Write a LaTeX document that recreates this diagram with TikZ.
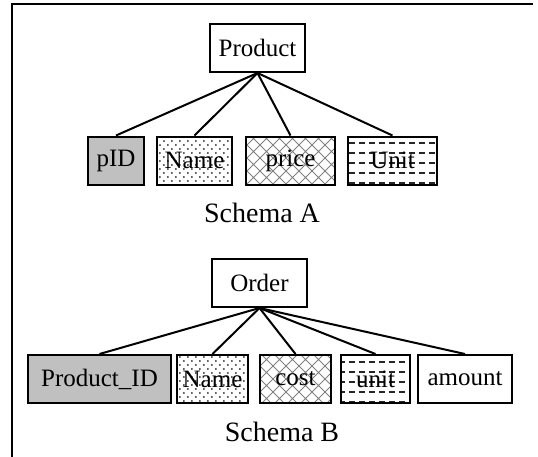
\documentclass[tikz,border=0pt]{standalone}
\usepackage{fontspec}
\setmainfont{Liberation Serif}
\usepackage{tikz}
\usetikzlibrary{patterns}
\definecolor{keygray}{HTML}{C0C0C0}
\definecolor{hatchgray}{HTML}{808080}
% monster
\pgfdeclarepatternformonly{finedots}{\pgfqpoint{-1pt}{-1pt}}{\pgfqpoint{5pt}{5pt}}{\pgfqpoint{4pt}{4pt}}{
  \pgfpathcircle{\pgfqpoint{0pt}{0pt}}{0.5pt}
  \pgfpathcircle{\pgfqpoint{2pt}{2pt}}{0.5pt}
  \pgfusepath{fill}}
\pgfdeclarepatternformonly{diamondhatch}{\pgfqpoint{-0.5pt}{-0.5pt}}{\pgfqpoint{7pt}{7pt}}{\pgfqpoint{6.5pt}{6.5pt}}{
  \pgfsetlinewidth{0.5pt}
  \pgfpathmoveto{\pgfqpoint{0pt}{0pt}}\pgfpathlineto{\pgfqpoint{6.5pt}{6.5pt}}
  \pgfpathmoveto{\pgfqpoint{0pt}{6.5pt}}\pgfpathlineto{\pgfqpoint{6.5pt}{0pt}}
  \pgfusepath{stroke}}
\pgfdeclarepatternformonly{dashrows}{\pgfqpoint{0pt}{0pt}}{\pgfqpoint{5pt}{5pt}}{\pgfqpoint{5pt}{5pt}}{
  \pgfsetlinewidth{0.8pt}
  \pgfpathmoveto{\pgfqpoint{0pt}{2.5pt}}\pgfpathlineto{\pgfqpoint{3pt}{2.5pt}}
  \pgfusepath{stroke}}
\tikzset{
  % scheman
  ent/.style={draw,line width=1pt,inner sep=0pt,minimum height=24pt,
              font=\fontsize{12.5}{14}\selectfont},
  att/.style={draw,line width=1pt,inner sep=0pt,minimum height=24pt,
              font=\fontsize{12.5}{14}\selectfont},
  keyatt/.style={att,fill=keygray},
  dotatt/.style={att,pattern=finedots,pattern color=black!85},
  hatchatt/.style={att,pattern=diamondhatch,pattern color=hatchgray},
  dashatt/.style={att,pattern=dashrows,pattern color=black!85},
  link/.style={draw,line width=1pt},
  schemalbl/.style={font=\fontsize{14}{16}\selectfont},
}
\begin{document}
\begin{tikzpicture}[x=0.5pt,y=-0.5pt]
\useasboundingbox (0,0) rectangle (538,457);
\draw[line width=1.2pt] (12,457) -- (12,4) -- (533,4);
  % Schema A
  \node[ent,minimum width=47.5pt] (prod) at (257.5,48) {Product};
  \node[keyatt,minimum width=28pt] (pid) at (116,160.5) {pID};
  \node[dotatt,minimum width=37.5pt] (namea) at (194.5,160.5) {Name};
  \node[hatchatt,minimum width=44.5pt] (price) at (290.5,160.5) {price};
  \node[dashatt,minimum width=44.5pt] (unita) at (392.5,160.5) {Unit};
  \node[schemalbl] (scha) at (262,213) {Schema A};
  \foreach \c in {pid,namea,price,unita}
    \draw[link] (prod.south) -- (\c.north);
  % Schema B
  \node[ent,minimum width=47.5pt] (order) at (259.5,283) {Order};
  \node[keyatt,minimum width=71.5pt] (pidb) at (99.5,379) {Product\_ID};
  \node[dotatt,minimum width=35.5pt] (nameb) at (212.5,379) {Name};
  \node[hatchatt,minimum width=35.5pt] (cost) at (295.5,379) {cost};
  \node[dashatt,minimum width=34.5pt] (unitb) at (375.5,379) {unit};
  \node[att,minimum width=47pt] (amount) at (465,379) {amount};
  \node[schemalbl] (schb) at (282,432) {Schema B};
  \foreach \c in {pidb,nameb,cost,unitb,amount}
    \draw[link] (order.south) -- (\c.north);
\end{tikzpicture}
\end{document}
